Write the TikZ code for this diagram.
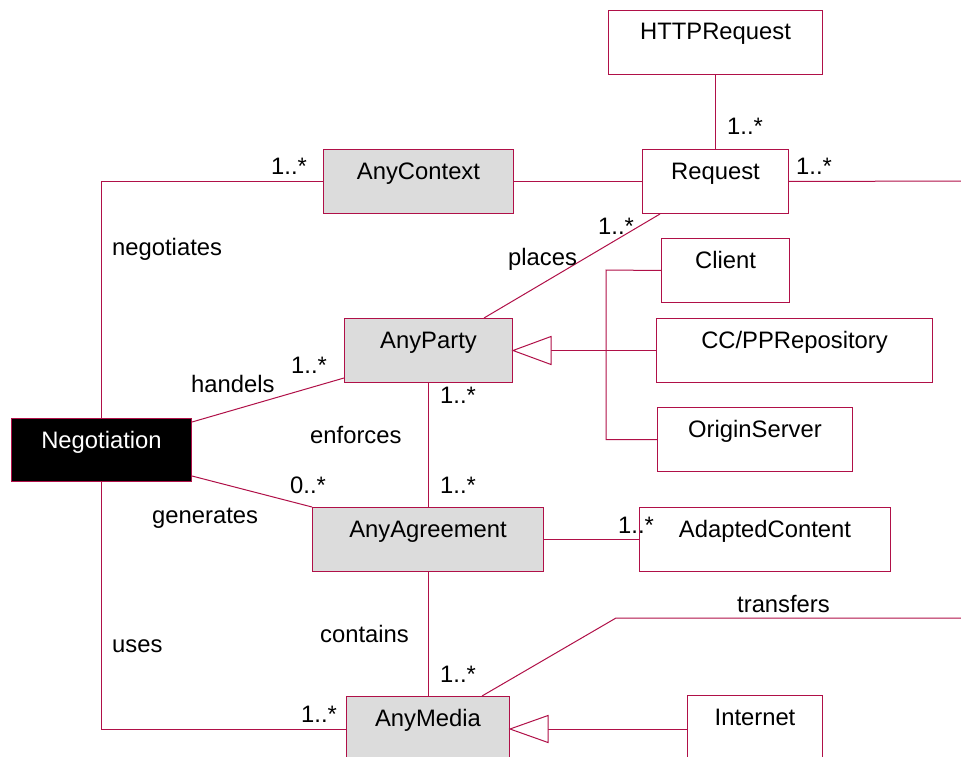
\documentclass[tikz,border=0pt]{standalone}
\usepackage{fontspec}
\setmainfont{Liberation Sans}
\usetikzlibrary{calc}
\definecolor{umlline}{RGB}{176,16,72}
\definecolor{umlgray}{RGB}{220,220,220}
\tikzset{
  boxbase/.style={draw=umlline, line width=1pt, rectangle, inner sep=0pt, anchor=north west},
  plainbox/.style={boxbase, fill=white},
  graybox/.style={boxbase, fill=umlgray},
  blackbox/.style={boxbase, fill=black},
  boxtext/.style={anchor=base, inner sep=0pt},
  lbl/.style={anchor=base west, inner sep=0pt},
  assoc/.style={draw=umlline, line width=1pt},
  gentri/.style={draw=umlline, line width=1pt, fill=white, line join=miter}
}
% \umlbox{name}{style}{x1}{y1}{x2}{y2}{text}{textcolour}
\newcommand\umlbox[8]{%
  \node[#2, minimum width={(#5-#3)*1pt}, minimum height={(#6-#4)*1pt}] (#1) at (#3,#4) {};
  \node[boxtext, text=#8] (#1t) at ($(#1.north)+(0,30)$) {#7};
}
\begin{document}
\begin{tikzpicture}[x=1pt, y=-1pt, font=\fontsize{23.8}{28}\selectfont]
\clip (0,0) rectangle (961,757);
\fill[white] (0,0) rectangle (961,757);

% boxes
\umlbox{http}{plainbox}{608}{10}{822}{74}{HTTPRequest}{black}
\umlbox{req}{plainbox}{642}{149}{788}{213}{Request}{black}
\umlbox{ctx}{graybox}{323}{149}{513}{213}{AnyContext}{black}
\umlbox{client}{plainbox}{661}{238}{789}{302}{Client}{black}
\umlbox{ccpp}{plainbox}{656}{318}{932}{382}{CC/PPRepository}{black}
\umlbox{origin}{plainbox}{657}{407}{852}{471}{OriginServer}{black}
\umlbox{party}{graybox}{344}{318}{512}{382}{AnyParty}{black}
\umlbox{neg}{blackbox}{11}{418}{191}{481}{Negotiation}{white}
\umlbox{agree}{graybox}{312}{507}{543}{571}{AnyAgreement}{black}
\umlbox{adapted}{plainbox}{639}{507}{890}{571}{AdaptedContent}{black}
\umlbox{media}{graybox}{346}{696}{509}{770}{AnyMedia}{black}
\umlbox{inet}{plainbox}{687}{695}{822}{770}{Internet}{black}

% free ends on the right edge
\coordinate (reqout) at (961,181);
\coordinate (trout) at (961,618);
\coordinate (trbend) at (616,618);

% HTTPRequest - Request
\draw[assoc] (http.south) -- (req.north);
\node[lbl] (l1) at (727,135) {1..*};

% AnyContext - Request
\draw[assoc] (ctx.east) -- (req.west);

% Request - right edge
\draw[assoc] (req.east) -- (reqout);
\node[lbl] (l2) at (796,175) {1..*};

% negotiates
\draw[assoc] (neg.north) |- (ctx.west);
\node[lbl] (l3) at (271,175) {1..*};
\node[lbl] (tneg) at (112,255) {negotiates};

% places
\draw[assoc] ($(req.south west)+(18,0)$) -- ($(party.north east)+(-29,0)$);
\node[lbl] (l4) at (598,234) {1..*};
\node[lbl] (tplaces) at (508,265) {places};

% generalization to AnyParty
\draw[assoc] (client.west) -- (606,270) |- (origin.west);
\draw[assoc] (ccpp.west) -- ($(party.east)+(38,0)$);
\draw[gentri] (party.east) -- ++(38,-14) -- ++(0,28) -- cycle;

% handels
\draw[assoc] ($(neg.north east)+(0,4)$) -- ($(party.south west)+(0,-5)$);
\node[lbl] (l5) at (291,373) {1..*};
\node[lbl] (thand) at (191,392) {handels};

% enforces
\draw[assoc] (party.south) -- (party.south |- agree.north);
\node[lbl] (l6) at (440,403) {1..*};
\node[lbl] (l7) at (440,493) {1..*};
\node[lbl] (tenf) at (310,443) {enforces};

% generates
\draw[assoc] ($(neg.south east)+(0,-6)$) -- (agree.north west);
\node[lbl] (l8) at (290,493) {0..*};
\node[lbl] (tgen) at (152,523) {generates};

% AnyAgreement - AdaptedContent
\draw[assoc] (agree.east) -- (adapted.west);
\node[lbl] (l9) at (618,533) {1..*};

% contains
\draw[assoc] (agree.south) -- (agree.south |- media.north);
\node[lbl] (l10) at (440,682) {1..*};
\node[lbl] (tcont) at (320,642) {contains};

% uses
\coordinate (mleft) at ($(media.north west)+(0,33)$);
\draw[assoc] (neg.south) |- (mleft);
\node[lbl] (l11) at (301,722) {1..*};
\node[lbl] (tuses) at (112,652) {uses};

% transfers
\draw[assoc] ($(media.north west)+(136,0)$) -- (trbend) -- (trout);
\node[lbl] (ttrans) at (737,612) {transfers};

% generalization Internet -> AnyMedia
\coordinate (mtip) at ($(media.north east)+(0,33)$);
\draw[assoc] (mtip -| inet.west) -- ($(mtip)+(38,0)$);
\draw[gentri] (mtip) -- ++(38,-13.5) -- ++(0,27) -- cycle;
\end{tikzpicture}
\end{document}
